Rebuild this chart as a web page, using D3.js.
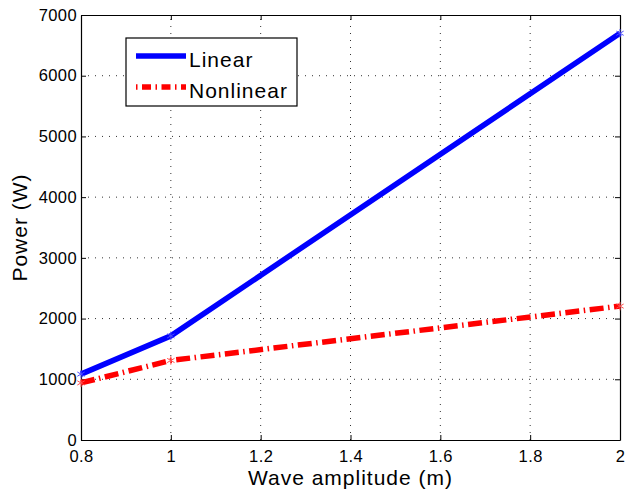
<!DOCTYPE html>
<html>
<head>
<meta charset="utf-8">
<script src="https://cdn.jsdelivr.net/npm/d3@7"></script>
<style>
  body { margin: 0; background: #fff; }
  svg { font-family: "Liberation Sans", Arial, sans-serif; }
</style>
</head>
<body>
<div id="chart"></div>
<script>
// wave amplitude (m)
let amplitude = [0.8, 1.0, 2.0];
// power (W)
let linearPower = [1085, 1715, 6700];
let nonlinearPower = [940, 1310, 2205];
let xTicks = [0.8, 1, 1.2, 1.4, 1.6, 1.8, 2];
let yTicks = [0, 1000, 2000, 3000, 4000, 5000, 6000, 7000];

let width = 625, height = 489;
let margin = {left: 81, right: 5, top: 15, bottom: 49};
let innerW = width - margin.left - margin.right;
let innerH = height - margin.top - margin.bottom;

let svg = d3.select("#chart").append("svg")
    .attr("width", width).attr("height", height);

let x = d3.scaleLinear().domain([0.8, 2]).range([margin.left, margin.left + innerW]);
let y = d3.scaleLinear().domain([0, 7000]).range([margin.top + innerH, margin.top]);

// grid (matlab style dotted)
let grid = svg.append("g").attr("class", "grid");
grid.selectAll("line.gx").data(xTicks.slice(1, -1)).join("line")
    .attr("x1", d => x(d)).attr("x2", d => x(d))
    .attr("y1", y(0)).attr("y2", y(7000))
    .attr("stroke", "#333").attr("stroke-width", 1)
    .attr("stroke-dasharray", "1,6");
grid.selectAll("line.gy").data(yTicks.slice(1, -1)).join("line")
    .attr("x1", x(0.8)).attr("x2", x(2))
    .attr("y1", d => y(d)).attr("y2", d => y(d))
    .attr("stroke", "#333").attr("stroke-width", 1)
    .attr("stroke-dasharray", "1,6");

// axes on all four sides, ticks inward
svg.append("g").attr("transform", `translate(0,${y(0)})`)
    .call(d3.axisBottom(x).tickValues(xTicks).tickFormat(d => String(d)).tickSizeInner(-5).tickSizeOuter(0).tickPadding(10));
svg.append("g").attr("transform", `translate(0,${y(7000)})`)
    .call(d3.axisTop(x).tickValues(xTicks).tickFormat("").tickSizeInner(-5).tickSizeOuter(0));
svg.append("g").attr("transform", `translate(${x(0.8)},0)`)
    .call(d3.axisLeft(y).tickValues(yTicks).tickFormat(d3.format("d")).tickSizeInner(-5).tickSizeOuter(0).tickPadding(4));
svg.append("g").attr("transform", `translate(${x(2)},0)`)
    .call(d3.axisRight(y).tickValues(yTicks).tickFormat("").tickSizeInner(-5).tickSizeOuter(0));

svg.selectAll(".domain").attr("stroke", "#000").attr("stroke-width", 1.2);
svg.selectAll(".tick line").attr("stroke", "#000");
svg.selectAll(".tick text").attr("font-size", 16.5).attr("fill", "#000")
    .attr("letter-spacing", 0.4)
    .attr("font-family", "Liberation Sans, Arial, sans-serif");

// lines
let line = d3.line().x(d => x(d[0])).y(d => y(d[1]));
let linData = amplitude.map((a, i) => [a, linearPower[i]]);
let nonData = amplitude.map((a, i) => [a, nonlinearPower[i]]);

svg.append("path").datum(linData)
    .attr("d", line).attr("fill", "none").attr("stroke", "#0000ff")
    .attr("stroke-width", 5.5).attr("stroke-linejoin", "round");
svg.append("path").datum(nonData)
    .attr("d", line).attr("fill", "none").attr("stroke", "#ff0000")
    .attr("stroke-width", 5.5).attr("stroke-dasharray", "14,4.5,1.5,4.5");

// star markers
let star = d3.symbol().type(d3.symbolAsterisk).size(50);
function markers(data, color) {
    svg.selectAll(null).data(data).join("path")
        .attr("transform", d => `translate(${x(d[0])},${y(d[1])})`)
        .attr("d", star).attr("fill", "none").attr("stroke", color).attr("stroke-width", 1);
}
markers(linData, "#4d4dff");
markers(nonData, "#ff4d4d");

// axis labels
svg.append("text").attr("x", x(1.4)).attr("y", 485)
    .attr("text-anchor", "middle").attr("font-size", 21).attr("letter-spacing", 1)
    .text("Wave amplitude (m)");
svg.append("text")
    .attr("transform", `translate(27,${(y(0) + y(7000)) / 2}) rotate(-90)`)
    .attr("text-anchor", "middle").attr("font-size", 21).attr("letter-spacing", 1)
    .text("Power (W)");

// legend
let legend = svg.append("g").attr("transform", "translate(126,38)");
legend.append("rect").attr("width", 171).attr("height", 68)
    .attr("fill", "#fff").attr("stroke", "#000").attr("stroke-width", 1.2);
let items = [
    {name: "Linear", color: "#0000ff", dash: null},
    {name: "Nonlinear", color: "#ff0000", dash: "1.5,4.5,9,4.5"}
];
items.forEach(function(it, i) {
    let cy = 18 + i * 31;
    legend.append("line").attr("x1", 10).attr("x2", 60).attr("y1", cy).attr("y2", cy)
        .attr("stroke", it.color).attr("stroke-width", 5.5)
        .attr("stroke-dasharray", it.dash);
    legend.append("text").attr("x", 63).attr("y", cy + 10.5)
        .attr("font-size", 21).attr("letter-spacing", 1).text(it.name);
});
</script>
</body>
</html>
